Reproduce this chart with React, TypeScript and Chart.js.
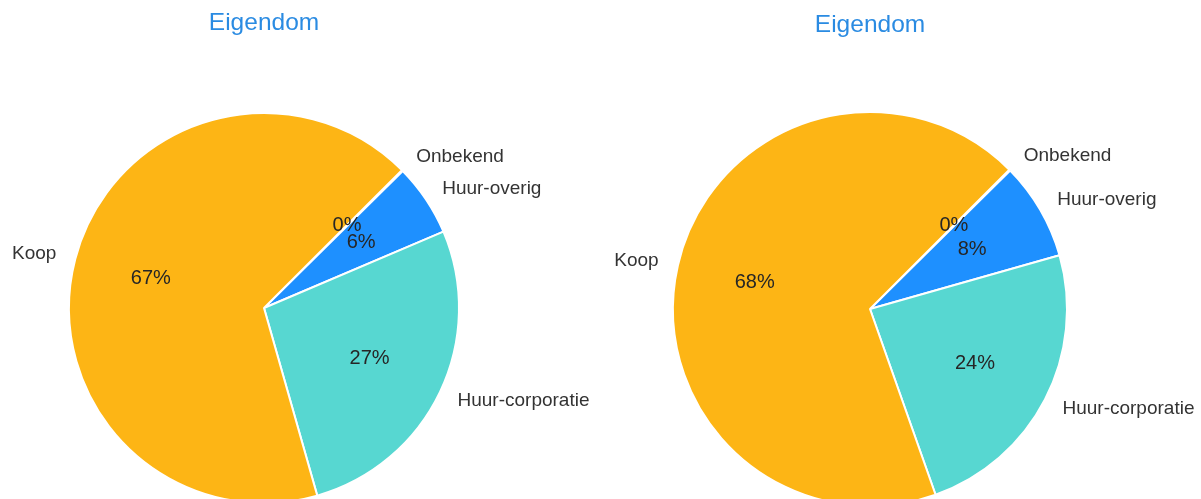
import React, { useEffect, useRef } from "react";
import { Chart, registerables } from "chart.js";

Chart.register(...registerables);

const categories = ["Onbekend", "Huur-overig", "Huur-corporatie", "Koop"];
const leftValues = [0.1, 6.0, 27.0, 66.9];
const rightValues = [0.1, 8.0, 24.0, 67.9];
const sliceColors = ["#FDB515", "#1E90FF", "#57D7D1", "#FDB515"];
const titleText = "Eigendom";
const FONT = '"Liberation Sans", Arial, Helvetica, sans-serif';

type PieProps = {
  values: number[];
  left: number;
  width: number;
  cx: number;
  cy: number;
  r: number;
  titleY: number;
};

const labelPlugin = (titleY: number) => ({
  id: "pieLabels",
  afterDraw(chart: any) {
    const ctx = chart.ctx as CanvasRenderingContext2D;
    const meta = chart.getDatasetMeta(0);
    const data = chart.data.datasets[0].data as number[];
    const total = data.reduce((a, b) => a + b, 0);
    ctx.save();
    meta.data.forEach((arc: any, i: number) => {
      const { x, y, startAngle, endAngle, outerRadius } = arc.getProps(
        ["x", "y", "startAngle", "endAngle", "outerRadius"],
        true
      );
      const mid = (startAngle + endAngle) / 2;
      const c = Math.cos(mid);
      const s = Math.sin(mid);
      // category label
      ctx.font = `19px ${FONT}`;
      ctx.fillStyle = "#333333";
      ctx.textBaseline = "middle";
      ctx.textAlign = c >= 0 ? "left" : "right";
      ctx.fillText(
        chart.data.labels[i],
        x + c * outerRadius * 1.1,
        y + s * outerRadius * 1.1
      );
      // percentage
      ctx.font = `20px ${FONT}`;
      ctx.textAlign = "center";
      ctx.fillStyle = "#262626";
      const pct = Math.round((data[i] / total) * 100);
      ctx.fillText(`${pct}%`, x + c * outerRadius * 0.6, y + s * outerRadius * 0.6);
    });
    // title
    const cx = meta.data[0].x;
    ctx.font = `24.5px ${FONT}`;
    ctx.fillStyle = "#2A8BE2";
    ctx.textAlign = "center";
    ctx.textBaseline = "middle";
    ctx.fillText(titleText, cx, titleY);
    ctx.restore();
  },
});

function Pie({ values, left, width, cx, cy, r, titleY }: PieProps) {
  const ref = useRef<HTMLCanvasElement | null>(null);
  const H = 640;
  useEffect(() => {
    if (!ref.current) return;
    const bw = 2;
    const size = 2 * r + bw;
    const padLeft = cx - size / 2;
    const padTop = cy - size / 2;
    const chart = new Chart(ref.current, {
      type: "pie",
      data: {
        labels: categories,
        datasets: [
          {
            data: values,
            backgroundColor: sliceColors,
            borderColor: "#ffffff",
            borderWidth: bw,
            hoverBorderWidth: bw,
          },
        ],
      },
      options: {
        responsive: false,
        animation: false,
        rotation: 45,
        layout: {
          padding: {
            left: padLeft,
            top: padTop,
            right: width - padLeft - size,
            bottom: H - padTop - size,
          },
        },
        plugins: {
          legend: { display: false },
          title: { display: false },
          tooltip: { enabled: false },
        },
      },
      plugins: [labelPlugin(titleY)],
    });
    return () => chart.destroy();
  }, []);
  return (
    <canvas
      ref={ref}
      width={width}
      height={H}
      style={{ position: "absolute", left, top: 0, width, height: H }}
    />
  );
}

export default function App() {
  return (
    <div
      style={{
        position: "fixed",
        left: 0,
        top: 0,
        width: 1201,
        height: 499,
        overflow: "hidden",
        background: "#ffffff",
      }}
    >
      <Pie values={leftValues} left={0} width={600} cx={264} cy={308} r={195} titleY={23} />
      <Pie values={rightValues} left={600} width={601} cx={270} cy={309} r={197} titleY={25} />
    </div>
  );
}
